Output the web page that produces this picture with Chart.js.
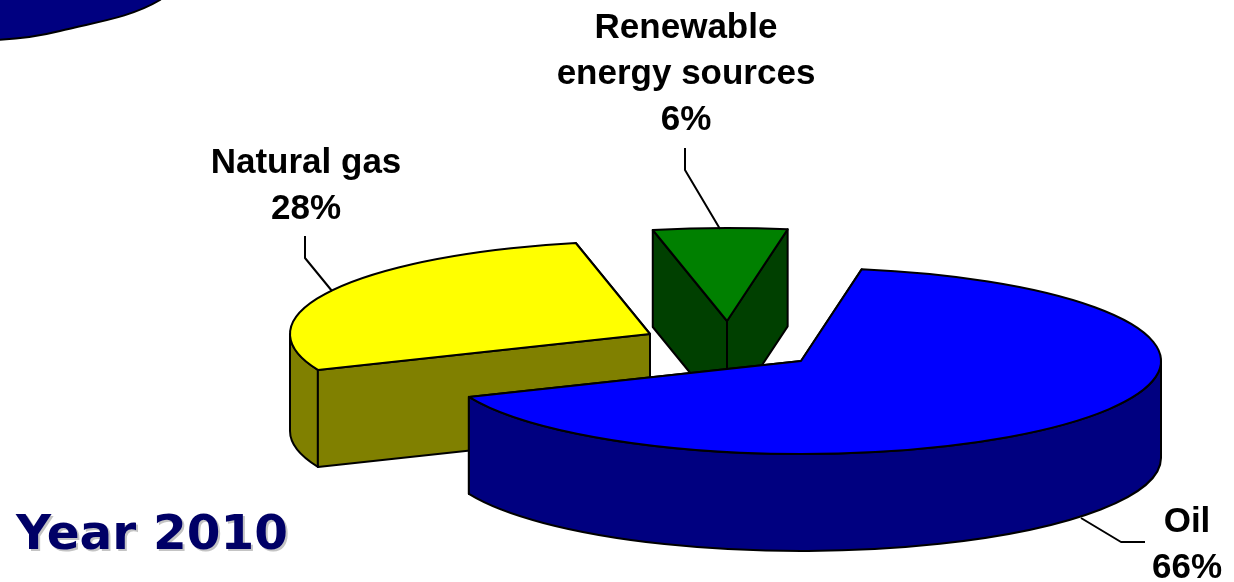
<!DOCTYPE html>
<html>
<head>
<meta charset="utf-8">
<title>Year 2010</title>
<style>
  html, body { margin: 0; padding: 0; background: #fff; }
  #wrap { position: relative; width: 1234px; height: 582px; overflow: hidden; }
</style>
<script src="https://cdn.jsdelivr.net/npm/chart.js@4"></script>
</head>
<body>
<div id="wrap"><canvas id="energyChart" width="1234" height="582"></canvas></div>
<script>
// Energy mix data
const categories = ['Oil', 'Natural gas', 'Renewable energy sources'];
const shares = [66, 28, 6];
const topColors = ['#0000ff', '#ffff00', '#008000'];
const sideColors = ['#000080', '#808000', '#004000'];
const yearLabel = 'Year 2010';

// Pie look: flattened ellipse, extrusion depth, exploded slice centres
const RX = 360;
const RY = 93;
const DEPTH = 97;
const START_DEG = 9.7;
const sliceCenters = [[801, 361], [650, 334], [727, 321]];
const paintOrder = [1, 2, 0];

// Label lines are worked out from the categories, leader lines stay fixed
const labelLines = [
  { x: 1187, lines: [categories[0]], y: 532 },
  { x: 306, lines: [categories[1]], y: 173 },
  { x: 686, lines: ['Renewable', 'energy sources'], y: 38 }
];
const leaders = [
  [[1081, 518], [1121, 542], [1145, 542]],
  [[305, 236], [305, 258], [332, 291]],
  [[685, 148], [685, 170], [720, 229]]
];

function outline(ctx, color) {
  ctx.strokeStyle = color || '#000';
  ctx.lineWidth = 2;
  ctx.lineJoin = 'round';
  ctx.stroke();
}

function drawRadialFace(ctx, cx, cy, angle, color) {
  const ox = cx + RX * Math.cos(angle);
  const oy = cy + RY * Math.sin(angle);
  ctx.beginPath();
  ctx.moveTo(cx, cy);
  ctx.lineTo(ox, oy);
  ctx.lineTo(ox, oy + DEPTH);
  ctx.lineTo(cx, cy + DEPTH);
  ctx.closePath();
  ctx.fillStyle = color;
  ctx.fill();
  outline(ctx);
}

// Outer rim, only the part that faces the viewer
function drawRim(ctx, cx, cy, startAngle, endAngle, color) {
  const ranges = [[0, Math.PI], [2 * Math.PI, 3 * Math.PI]];
  ranges.forEach(r => {
    const a = Math.max(startAngle, r[0]);
    const b = Math.min(endAngle, r[1]);
    if (b <= a) return;
    ctx.beginPath();
    ctx.ellipse(cx, cy, RX, RY, 0, a, b);
    ctx.ellipse(cx, cy + DEPTH, RX, RY, 0, b, a, true);
    ctx.closePath();
    ctx.fillStyle = color;
    ctx.fill();
    outline(ctx);
  });
}

function drawSlice(ctx, arc, index) {
  const [cx, cy] = sliceCenters[index];
  let start = arc.startAngle;
  let end = arc.endAngle;
  while (start < 0) { start += 2 * Math.PI; end += 2 * Math.PI; }
  const color = sideColors[index];

  const startFront = -Math.cos(start) > 0;
  const endFront = Math.cos(end) > 0;

  if (!startFront) drawRadialFace(ctx, cx, cy, start, color);
  if (!endFront) drawRadialFace(ctx, cx, cy, end, color);
  drawRim(ctx, cx, cy, start, end, color);
  if (startFront) drawRadialFace(ctx, cx, cy, start, color);
  if (endFront) drawRadialFace(ctx, cx, cy, end, color);

  // top face comes from the arc element itself, squashed onto the ellipse
  ctx.save();
  ctx.translate(cx, cy);
  ctx.scale(RX / arc.outerRadius, RY / arc.outerRadius);
  ctx.translate(-arc.x, -arc.y);
  arc.draw(ctx);
  ctx.restore();

  ctx.beginPath();
  ctx.moveTo(cx, cy);
  ctx.ellipse(cx, cy, RX, RY, 0, start, end);
  ctx.closePath();
  outline(ctx);
}

function drawCornerShape(ctx) {
  ctx.beginPath();
  ctx.moveTo(-5, -5);
  ctx.lineTo(165, -5);
  ctx.lineTo(160, 0);
  ctx.bezierCurveTo(130, 18, 95, 22, 60, 31);
  ctx.bezierCurveTo(40, 36, 20, 39, -5, 40);
  ctx.closePath();
  ctx.fillStyle = '#000080';
  ctx.fill();
  outline(ctx);
}

function drawLabels(ctx) {
  ctx.textAlign = 'center';
  ctx.textBaseline = 'alphabetic';
  ctx.fillStyle = '#000';
  ctx.font = 'bold 35px "Liberation Sans", Arial, sans-serif';
  labelLines.forEach((label, i) => {
    const rows = label.lines.concat(shares[i] + '%');
    rows.forEach((row, r) => ctx.fillText(row, label.x, label.y + r * 46));
  });

  leaders.forEach(pts => {
    ctx.beginPath();
    pts.forEach((p, i) => (i ? ctx.lineTo(p[0], p[1]) : ctx.moveTo(p[0], p[1])));
    ctx.strokeStyle = '#000';
    ctx.lineWidth = 2;
    ctx.stroke();
  });

  // Year caption with its grey drop shadow
  ctx.textAlign = 'left';
  ctx.font = 'bold 48.5px "DejaVu Sans", Verdana, sans-serif';
  ctx.fillStyle = '#c4c4c4';
  ctx.fillText(yearLabel, 18, 551);
  ctx.fillStyle = '#000066';
  ctx.fillText(yearLabel, 16, 549);
}

const pie3d = {
  id: 'pie3d',
  beforeDatasetDraw(chart) {
    const ctx = chart.ctx;
    const arcs = chart.getDatasetMeta(0).data;
    paintOrder.forEach(i => drawSlice(ctx, arcs[i], i));
    return false;
  },
  afterDraw(chart) {
    drawCornerShape(chart.ctx);
    drawLabels(chart.ctx);
  }
};

new Chart(document.getElementById('energyChart'), {
  type: 'pie',
  data: {
    labels: categories,
    datasets: [{
      data: shares,
      backgroundColor: topColors,
      borderWidth: 0
    }]
  },
  options: {
    responsive: false,
    animation: false,
    rotation: START_DEG,
    plugins: {
      legend: { display: false },
      tooltip: { enabled: false }
    }
  },
  plugins: [pie3d]
});
</script>
</body>
</html>
